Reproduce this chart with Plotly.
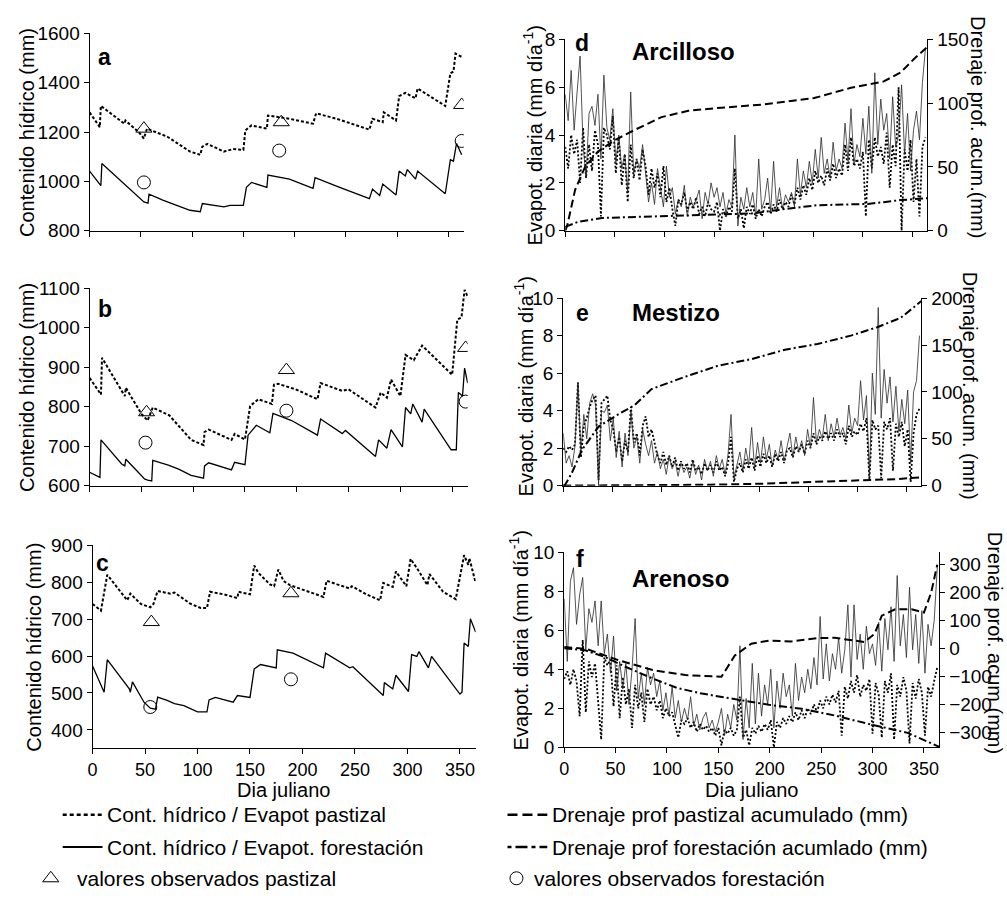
import plotly.graph_objects as go

W, H = 1007, 901
FONT = "Liberation Sans, Arial, Helvetica, sans-serif"

# ---------------- DATA ----------------
TICK_DAYS = [0, 50, 100, 150, 200, 250, 300, 350]

# Panel a (water content, mm)
A_PAST_D = [0,10,11,34,35,48,53,56,76,98,108,110,115,131,140,150,152,158,173,174,195,218,221,241,273,276,286,287,299,302,308,318,320,347,352,355,357,363]
A_PAST_V = [1280,1220,1306,1234,1247,1200,1174,1214,1181,1121,1108,1141,1152,1121,1131,1128,1207,1227,1214,1267,1254,1234,1276,1254,1210,1254,1240,1280,1247,1346,1359,1337,1377,1306,1439,1445,1518,1505]
A_FOR_D = [0,11,12,34,53,57,58,72,98,108,110,131,137,150,153,158,173,174,195,218,220,244,273,276,283,286,299,302,308,310,318,320,347,352,355,358,363]
A_FOR_V = [1042,983,1073,990,917,912,948,923,883,877,910,897,903,903,976,996,976,1026,1009,972,1015,976,930,969,943,989,945,1042,1022,1048,1009,1042,950,1088,1082,1154,1108]
A_OBS_PAST_D = [53, 187, 363]
A_OBS_PAST_V = [1214, 1240, 1310]
A_OBS_FOR_D = [53, 185, 363]
A_OBS_FOR_V = [996, 1125, 1164]

# Panel b
B_PAST_D = [0,11,12,34,35,50,56,61,77,98,110,111,115,137,140,150,155,163,176,178,182,199,220,223,244,250,276,281,287,291,300,305,313,321,350,355,359,362,365]
B_PAST_V = [873,831,924,827,848,782,765,798,778,716,703,736,742,716,731,717,802,819,807,856,858,844,819,860,840,844,798,836,823,869,827,931,918,955,881,1021,1026,1096,1080]
B_FOR_D = [0,10,11,31,34,35,47,53,56,60,61,76,86,98,110,111,115,137,140,150,153,161,174,177,195,220,223,244,247,276,279,287,291,302,305,310,312,321,323,349,354,356,360,362,365]
B_FOR_V = [634,621,716,655,650,667,634,617,614,612,664,652,642,626,619,650,658,640,659,653,728,753,734,783,765,728,769,732,740,674,716,695,742,698,798,782,807,761,794,691,691,836,827,898,860]
B_OBS_PAST_D = [55, 190, 363]
B_OBS_PAST_V = [786, 893, 949]
B_OBS_FOR_D = [54, 190, 363]
B_OBS_FOR_V = [709, 790, 813]

# Panel c
C_PAST_D = [0,8,14,27,33,36,46,55,58,62,74,78,93,103,109,112,125,138,139,150,154,158,169,173,177,182,188,220,223,233,245,247,261,274,277,286,289,299,303,309,319,321,334,346,354,358,359,365]
C_PAST_V = [741,723,820,772,751,769,741,732,741,776,769,772,742,730,730,774,767,757,774,767,845,825,794,789,834,803,792,760,804,794,783,789,767,751,798,787,829,789,863,838,792,822,774,754,873,847,865,798]
C_FOR_D = [0,11,14,35,36,38,49,55,60,62,71,78,87,100,109,111,117,134,138,150,154,160,175,176,191,220,222,245,248,277,278,286,289,301,304,309,311,320,323,350,352,354,358,360,365]
C_FOR_V = [573,502,590,511,502,530,475,459,456,489,480,471,466,449,449,481,488,475,493,488,565,577,568,617,608,568,608,568,571,493,528,511,548,504,604,599,612,568,599,497,502,635,626,701,665]
C_OBS_PAST_D = [56, 189]
C_OBS_PAST_V = [692, 770]
C_OBS_FOR_D = [55, 189]
C_OBS_FOR_V = [462, 537]

# Daily evapotranspiration (mm/day), one value every 3 days (day 0 ... 363)
D_EVAP_FOR = [5.7,4.6,6.7,4.2,5.8,7.3,3.6,2.2,4.9,5.2,4.4,5.7,3.0,6.5,4.3,3.8,5.1,2.8,4.0,2.6,
              3.2,1.6,5.8,2.4,3.0,2.6,3.6,2.5,1.2,2.0,1.1,2.6,1.8,1.0,2.7,1.4,1.8,0.7,1.3,1.0,
              1.9,0.6,1.4,1.0,1.3,1.7,0.5,1.6,1.1,2.0,1.4,1.8,1.0,1.6,0.7,1.3,1.0,4.0,0.2,1.4,
              0.9,1.8,1.0,1.6,0.6,3.0,0.9,1.3,2.2,0.8,2.9,1.0,1.8,0.9,1.5,1.2,1.6,1.0,3.0,1.5,
              2.5,1.8,2.9,2.0,3.4,2.2,3.9,2.4,3.0,2.2,3.7,2.5,3.0,2.6,4.5,2.9,5.1,2.8,3.6,3.1,
              4.7,3.2,5.2,2.4,6.6,3.6,5.5,4.2,4.9,3.0,5.6,3.5,4.0,6.1,3.2,4.9,2.5,4.2,5.0,3.8,
              6.2,7.6]
D_EVAP_PAST = [3.5,2.6,4.0,3.2,3.8,2.0,4.3,2.2,3.6,2.5,4.2,3.6,0.6,4.3,4.0,3.4,4.8,2.4,3.9,1.9,
               3.2,1.2,3.6,2.2,3.0,2.1,3.4,2.7,1.5,2.6,1.8,2.4,1.4,2.7,1.2,1.8,0.9,0.2,1.3,1.1,
               1.6,0.8,1.2,0.9,1.4,0.7,1.0,0.6,1.2,0.9,0.8,1.2,0.0,0.9,0.6,1.0,0.8,2.6,0.5,0.9,
               0.1,1.0,0.7,1.1,0.5,0.9,0.6,1.0,1.2,0.7,1.1,0.8,1.3,0.9,1.2,1.0,1.5,1.1,1.8,1.3,
               1.9,1.5,2.2,1.7,2.5,2.0,2.3,1.9,2.6,2.1,2.8,2.2,2.6,2.3,3.6,2.5,3.9,2.7,3.0,2.6,
               3.3,0.6,3.8,2.6,3.9,3.1,3.5,2.8,4.1,1.8,3.6,2.7,6.0,0.0,3.4,2.5,3.8,1.2,3.0,0.6,
               3.5,3.9]
E_EVAP_FOR = [2.8,1.2,1.6,1.0,2.1,5.5,1.8,3.8,2.5,4.4,4.9,4.3,0.0,4.0,3.9,4.3,2.4,3.6,1.5,2.9,
              1.0,2.8,1.6,4.0,2.0,2.6,1.2,3.0,2.2,1.6,2.4,1.2,1.8,0.9,1.4,0.6,1.6,0.9,1.3,0.5,
              1.2,0.7,1.0,0.4,1.3,0.6,1.1,0.3,1.4,0.8,1.3,0.5,1.6,0.9,1.4,0.6,1.7,3.8,0.4,1.2,
              1.8,0.8,2.0,1.1,3.1,0.9,2.3,1.2,2.6,1.4,2.2,1.0,1.9,1.4,2.4,1.3,2.0,2.8,1.5,2.6,
              1.8,2.4,1.6,3.0,2.0,4.7,2.3,3.0,2.5,3.8,2.4,3.3,2.6,3.6,2.7,3.1,2.5,4.3,2.8,3.6,
              3.2,5.6,3.5,4.8,0.4,6.0,3.8,9.5,3.6,6.2,4.4,5.8,3.4,5.3,2.9,4.6,3.3,5.1,1.2,5.0,
              5.6,8.0]
E_EVAP_PAST = [2.0,1.8,2.1,1.9,2.2,5.5,1.5,3.2,3.6,4.2,4.6,4.8,0.3,4.4,4.6,4.8,3.5,3.0,1.8,2.6,
               1.3,2.4,1.8,4.2,2.3,2.8,1.6,3.2,3.7,2.6,3.0,2.2,1.6,1.2,1.8,1.1,1.6,1.0,1.5,0.8,
               1.3,0.9,1.2,0.7,1.4,0.8,1.0,0.6,1.2,0.8,1.1,0.7,1.3,0.8,1.0,0.5,1.2,2.6,0.2,0.9,
               1.2,0.7,1.4,0.9,1.5,0.8,1.6,1.0,1.7,1.2,1.6,1.0,1.7,1.3,1.8,1.2,1.9,2.0,1.5,2.1,
               1.8,2.2,1.7,2.4,2.0,2.8,2.2,2.6,2.4,2.9,2.5,2.8,2.4,3.0,2.6,2.8,2.2,3.2,2.6,2.9,
               2.7,3.3,2.9,3.6,0.3,3.5,3.0,3.2,0.4,3.4,3.0,3.6,0.8,3.3,2.6,3.4,2.1,3.0,0.2,2.8,
               3.8,4.1]
F_EVAP_FOR = [7.6,4.4,8.5,9.2,6.3,7.8,8.7,5.0,7.1,6.4,7.5,5.2,7.5,4.8,5.8,3.8,5.7,2.9,4.4,3.0,
              4.3,2.2,4.0,6.6,2.5,3.8,2.2,4.1,3.2,3.8,2.6,3.4,1.9,2.8,1.6,3.1,1.5,2.4,1.3,2.0,
              1.4,2.6,1.1,1.7,0.9,1.5,1.8,1.0,1.4,0.8,1.3,2.0,0.6,1.7,1.0,2.2,1.4,5.2,0.4,2.5,
              1.0,4.3,1.2,3.8,1.6,3.2,2.2,4.0,1.0,3.4,2.0,3.8,2.6,3.2,1.6,4.3,2.4,3.6,2.8,4.0,
              3.0,4.6,3.2,6.7,3.5,5.3,3.4,4.8,4.0,5.6,3.8,5.0,7.3,3.6,7.3,4.5,5.8,4.0,6.2,4.8,
              5.3,4.2,6.4,3.9,6.6,5.0,7.2,4.4,8.8,5.2,6.8,4.6,8.2,5.0,6.8,4.3,7.0,3.8,6.3,5.2,
              6.5,9.2]
F_EVAP_PAST = [3.5,3.9,3.2,4.0,3.4,1.6,5.5,1.8,4.4,3.6,4.3,2.5,0.4,4.6,4.2,4.5,2.1,4.2,1.5,3.6,
               2.2,3.0,1.0,3.2,2.0,2.8,1.3,3.0,2.2,2.6,1.9,2.4,1.5,2.0,1.6,1.8,1.1,0.5,1.4,1.2,
               1.5,1.0,1.3,0.8,1.2,0.9,1.1,0.8,1.0,0.6,1.0,0.1,0.9,0.7,1.0,0.6,0.9,2.6,0.5,0.9,
               0.1,1.0,0.7,1.1,0.8,1.2,0.9,1.4,0.0,1.3,1.0,1.5,1.2,1.6,1.3,1.8,1.4,1.9,1.5,2.0,
               1.7,2.2,1.8,2.4,2.0,2.6,2.2,2.7,2.3,2.9,0.6,3.1,2.5,3.4,2.8,3.7,2.6,3.2,2.9,3.5,
               0.7,3.3,2.7,0.5,3.4,2.8,3.8,0.4,3.2,2.6,3.6,2.9,0.2,3.3,2.5,3.5,2.8,0.6,3.1,2.6,
               3.4,4.1]

# Cumulative deep drainage (mm)
D_DR_PAST_D = [0,2,10,20,33,50,70,97,124,151,201,251,288,321,338,352,365]
D_DR_PAST_V = [0,4,32,50,62,71,79,89,94,96,99,104,112,117,124,135,144]
D_DR_FOR_D = [0,13,37,87,137,188,221,254,305,338,365]
D_DR_FOR_V = [3,7,10,11,12,13.5,17,20,21,24,25.5]
E_DR_FOR_D = [0,2,9,19,36,56,73,90,124,158,192,226,259,293,320,344,365]
E_DR_FOR_V = [0,1,14,38,63,76,86,103,116,128,135,145,151,160,169,179,197]
E_DR_PAST_D = [0,100,150,200,250,300,340,365]
E_DR_PAST_V = [0,0.5,1,2,4,5.5,7,9]
F_DR_PAST_D = [0,21,53,86,118,153,166,182,199,221,247,263,283,292,302,309,322,338,350,357,363]
F_DR_PAST_V = [6,0,-41,-76,-94,-100,-24,18,29,26,38,39,29,24,53,118,141,141,129,200,300]
F_DR_FOR_D = [0,20,40,60,86,110,134,166,199,231,263,296,334,365]
F_DR_FOR_V = [2,-5,-30,-65,-106,-140,-160,-180,-200,-214,-238,-268,-300,-350]

# ---------------- LAYOUT GEOMETRY (pixels) ----------------
DOM = {
    1: dict(x=(85, 461), y=(24, 226)),
    2: dict(x=(85, 465), y=(285, 487)),
    3: dict(x=(88, 473), y=(548, 756)),
    4: dict(x=(563, 927), y=(30, 226)),
    5: dict(x=(561, 921), y=(295, 487)),
    6: dict(x=(562, 939), y=(555, 755)),
}

def fx(x):
    return x / W

def fy(y):
    return 1 - y / H

fig = go.Figure()

PAST_DOT_L = dict(color="black", width=2, dash="3px,2px")
FOR_SOL_L = dict(color="black", width=1.3)
EV_FOR_L = dict(color="#2a2a2a", width=0.8)
EV_PAST_L = dict(color="black", width=1.8, dash="2px,2px")
DR_PAST_L = dict(color="black", width=2, dash="8px,4px")
DR_FOR_L = dict(color="black", width=2, dash="8px,3px,2px,3px")


def add(x, y, xa, ya, line=None, mode="lines", marker=None):
    kw = dict(x=x, y=y, xaxis=xa, yaxis=ya, mode=mode, showlegend=False, hoverinfo="skip")
    if line is not None:
        kw["line"] = line
    if marker is not None:
        kw["marker"] = marker
    fig.add_trace(go.Scatter(**kw))

TRI = dict(symbol="triangle-up-open", size=14, color="black", line=dict(width=1, color="black"))
CIRC = dict(symbol="circle-open", size=13, color="black", line=dict(width=1, color="black"))

left = [
    (1, A_PAST_D, A_PAST_V, A_FOR_D, A_FOR_V, A_OBS_PAST_D, A_OBS_PAST_V, A_OBS_FOR_D, A_OBS_FOR_V),
    (2, B_PAST_D, B_PAST_V, B_FOR_D, B_FOR_V, B_OBS_PAST_D, B_OBS_PAST_V, B_OBS_FOR_D, B_OBS_FOR_V),
    (3, C_PAST_D, C_PAST_V, C_FOR_D, C_FOR_V, C_OBS_PAST_D, C_OBS_PAST_V, C_OBS_FOR_D, C_OBS_FOR_V),
]
for i, pd_, pv, fd, fv, opd, opv, ofd, ofv in left:
    xa, ya = "x%d" % i, "y%d" % i
    add(pd_, pv, xa, ya, PAST_DOT_L)
    add(fd, fv, xa, ya, FOR_SOL_L)
    add(opd, opv, xa, ya, mode="markers", marker=TRI)
    add(ofd, ofv, xa, ya, mode="markers", marker=CIRC)

right = [
    (4, 7, D_EVAP_FOR, D_EVAP_PAST, [(D_DR_PAST_D, D_DR_PAST_V, DR_PAST_L), (D_DR_FOR_D, D_DR_FOR_V, DR_FOR_L)]),
    (5, 8, E_EVAP_FOR, E_EVAP_PAST, [(E_DR_PAST_D, E_DR_PAST_V, DR_PAST_L), (E_DR_FOR_D, E_DR_FOR_V, DR_FOR_L)]),
    (6, 9, F_EVAP_FOR, F_EVAP_PAST, [(F_DR_PAST_D, F_DR_PAST_V, DR_PAST_L), (F_DR_FOR_D, F_DR_FOR_V, DR_FOR_L)]),
]
for i, j, ef, ep, drs in right:
    xa, ya, ya2 = "x%d" % i, "y%d" % i, "y%d" % j
    days_f = [3 * k for k in range(len(ef))]
    days_p = [3 * k for k in range(len(ep))]
    add(days_p, ep, xa, ya, EV_PAST_L)
    add(days_f, ef, xa, ya, EV_FOR_L)
    for dd, dv, ln in drs:
        add(dd, dv, xa, ya2, ln)

# ---------------- AXES ----------------
TICKFONT = dict(family=FONT, size=19, color="black")
base = dict(showline=True, linecolor="black", linewidth=1, ticks="outside", ticklen=5,
            tickwidth=1, tickcolor="black", showgrid=False, zeroline=False, tickfont=TICKFONT,
            fixedrange=True)

layout = dict(
    width=W, height=H, margin=dict(l=0, r=0, t=0, b=0),
    paper_bgcolor="white", plot_bgcolor="rgba(0,0,0,0)",
    showlegend=False, font=dict(family=FONT, color="black"),
)

YR = {1: ([800, 1600], [800, 1000, 1200, 1400, 1600]),
      2: ([600, 1100], [600, 700, 800, 900, 1000, 1100]),
      3: ([350, 900], [400, 500, 600, 700, 800, 900]),
      4: ([0, 8], [0, 2, 4, 6, 8]),
      5: ([0, 10], [0, 2, 4, 6, 8, 10]),
      6: ([0, 10], [0, 2, 4, 6, 8, 10])}
for i in range(1, 7):
    d = DOM[i]
    xk = "xaxis" if i == 1 else "xaxis%d" % i
    yk = "yaxis" if i == 1 else "yaxis%d" % i
    layout[xk] = dict(base, domain=[fx(d["x"][0]), fx(d["x"][1])], anchor="y%d" % i,
                      range=[0, 365], tickvals=TICK_DAYS,
                      showticklabels=(i in (3, 6)),
                      tickfont=dict(family=FONT, size=18, color="black"))
    layout[yk] = dict(base, domain=[fy(d["y"][1]), fy(d["y"][0])], anchor="x%d" % i,
                      range=YR[i][0], tickvals=YR[i][1])

SEC = {7: (4, [0, 150], [0, 50, 100, 150]),
       8: (5, [0, 200], [0, 50, 100, 150, 200]),
       9: (6, [-352, 345], [-300, -200, -100, 0, 100, 200, 300])}
for j, (i, rng, tv) in SEC.items():
    layout["yaxis%d" % j] = dict(base, overlaying="y%d" % i, anchor="x%d" % i, side="right",
                                 range=rng, tickvals=tv)

# overlay axis (pixel coordinates) for the legend keys
layout["xaxis7"] = dict(domain=[0, 1], range=[0, W], visible=False, anchor="y10", fixedrange=True)
layout["yaxis10"] = dict(domain=[0, 1], range=[H, 0], visible=False, anchor="x7", fixedrange=True)

fig.update_layout(**layout)

# legend keys
LEG_ROWS = [824, 857, 889]
add([58, 98], [LEG_ROWS[0]] * 2, "x7", "y10", dict(color="black", width=2.5, dash="4px,3px"))
add([58, 98], [LEG_ROWS[1]] * 2, "x7", "y10", dict(color="black", width=2))
add([46], [LEG_ROWS[2]], "x7", "y10", mode="markers", marker=TRI)
add([505, 545], [LEG_ROWS[0]] * 2, "x7", "y10", dict(color="black", width=2.5, dash="10px,5px"))
add([505, 545], [LEG_ROWS[1]] * 2, "x7", "y10", dict(color="black", width=2.5, dash="4px,4px,12px,4px"))
add([514], [LEG_ROWS[2]], "x7", "y10", mode="markers", marker=CIRC)

LEG_TEXT = [
    (100, LEG_ROWS[0], "Cont. hídrico / Evapot pastizal"),
    (100, LEG_ROWS[1], "Cont. hídrico / Evapot. forestación"),
    (70, LEG_ROWS[2], "valores observados pastizal"),
    (548, LEG_ROWS[0], "Drenaje prof pastizal acumulado (mm)"),
    (548, LEG_ROWS[1], "Drenaje prof forestación acumlado (mm)"),
    (530, LEG_ROWS[2], "valores observados forestación"),
]

ann = []
for x, y, t in LEG_TEXT:
    ann.append(dict(x=fx(x), y=fy(y), xref="paper", yref="paper", text=t, showarrow=False,
                    xanchor="left", yanchor="middle", font=dict(family=FONT, size=21, color="black")))

# panel letters and soil names
for x, y, t in [(100, 48, "a"), (100, 306, "b"), (98, 566, "c"),
                (580, 34, "d"), (580, 310, "e"), (578, 562, "f")]:
    ann.append(dict(x=fx(x), y=fy(y), xref="paper", yref="paper", text="<b>%s</b>" % t,
                    showarrow=False, xanchor="center", yanchor="middle",
                    font=dict(family=FONT, size=23, color="black")))
for x, y, t in [(682, 42, "Arcilloso"), (674, 310, "Mestizo"), (679, 582, "Arenoso")]:
    ann.append(dict(x=fx(x), y=fy(y), xref="paper", yref="paper", text="<b>%s</b>" % t,
                    showarrow=False, xanchor="center", yanchor="middle",
                    font=dict(family=FONT, size=24, color="black")))

# axis titles
TF = dict(family=FONT, size=20, color="black")
for x, y in [(22, 125), (22, 386), (29, 652)]:
    ann.append(dict(x=fx(x), y=fy(y), xref="paper", yref="paper", text="Contenido hídrico (mm)",
                    textangle=-90, showarrow=False, xanchor="center", yanchor="middle", font=TF))
for x, y in [(530, 128), (521, 385), (517, 645)]:
    ann.append(dict(x=fx(x), y=fy(y), xref="paper", yref="paper",
                    text="Evapot. diaria (mm día<sup>-1</sup>)",
                    textangle=-90, showarrow=False, xanchor="center", yanchor="middle", font=TF))
for x, y, t in [(978, 120, "Drenaje prof. acum.(mm)"), (970, 385, "Drenaje prof. acum. (mm)"),
                (995, 648, "Drenaje prof. acum (mm)")]:
    ann.append(dict(x=fx(x), y=fy(y), xref="paper", yref="paper", text=t,
                    textangle=90, showarrow=False, xanchor="center", yanchor="middle", font=TF))
for x in [280, 750]:
    ann.append(dict(x=fx(x), y=fy(799), xref="paper", yref="paper", text="Dia juliano",
                    showarrow=False, xanchor="center", yanchor="middle",
                    font=dict(family=FONT, size=20, color="black")))

fig.update_layout(annotations=ann)
fig.write_html("out.html")
